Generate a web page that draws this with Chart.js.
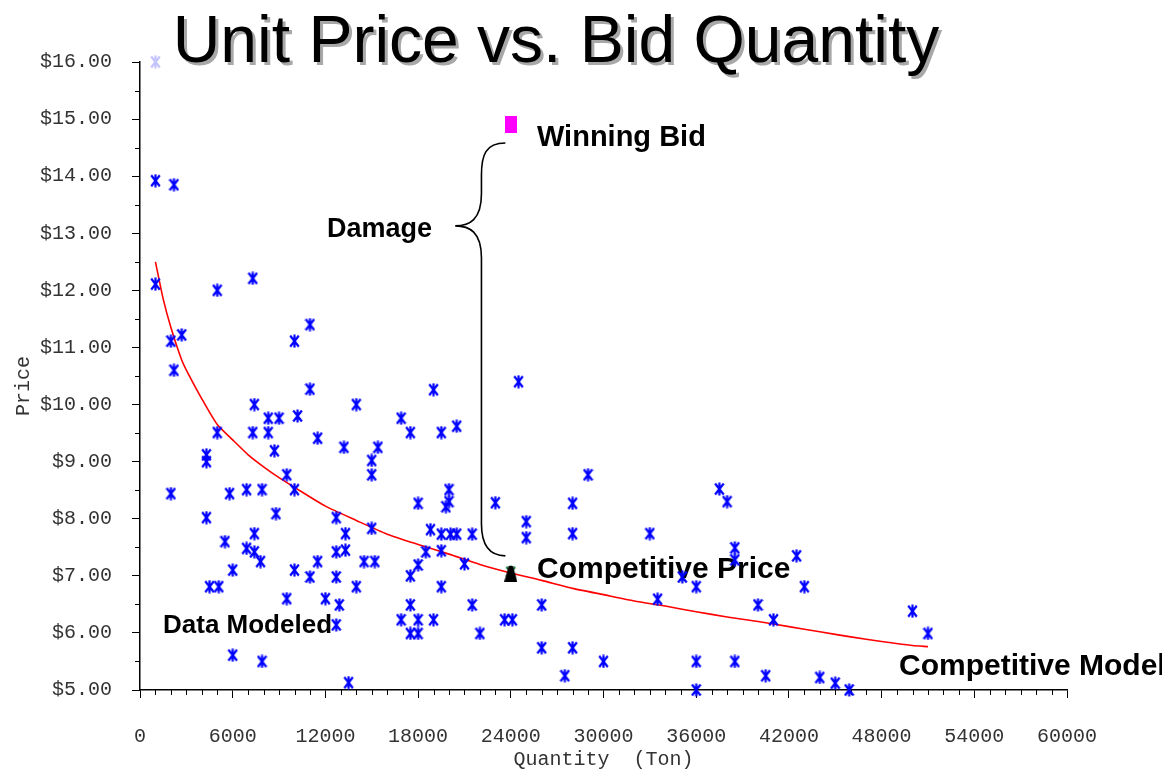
<!DOCTYPE html>
<html>
<head>
<meta charset="utf-8">
<title>Unit Price vs. Bid Quantity</title>
<script src="https://cdn.jsdelivr.net/npm/chart.js@4.4.1/dist/chart.umd.min.js"></script>
<style>
  html, body { margin: 0; padding: 0; background: #fff; }
  canvas { display: block; }
</style>
</head>
<body>
<canvas id="bidChart" width="1168" height="771"></canvas>
<script>
// bids (quantity in tons, unit price in $)
const bidQty = [1000,2200,1000,2000,2700,5000,7300,10000,11000,2200,
  11000,7400,14000,8300,9000,10200,5000,7300,8300,11500,
  13200,15400,4300,4300,8700,15000,15000,9500,2000,5800,
  6900,7900,10000,8800,4300,12700,15000,7400,13300,5500,
  6900,7400,7800,12700,13300,14500,15200,6000,10000,11500,
  11000,12700,4500,5100,14000,9500,12000,12900,12700,6000,
  7900,13500,19000,24500,16900,17500,19500,20500,20000,20000,
  19800,18000,23000,18800,19500,20100,20500,21500,25000,25000,
  18500,19500,18000,21000,17500,19500,17500,21500,26000,16900,
  18000,19000,23600,24100,17500,18000,22000,26000,29000,28000,
  37500,38000,28000,33000,38500,38500,35100,36000,33500,40000,
  41000,28000,30000,27500,36000,38500,40500,36000,42500,43000,
  50000,51000,44000,45000,45900];
const bidPrice = [13.92,13.85,12.11,11.11,11.22,12.00,12.21,11.11,11.40,10.60,
  10.27,10.00,10.00,9.76,9.76,9.80,9.51,9.51,9.51,9.41,
  9.25,9.25,9.12,9.00,9.19,9.02,8.77,8.77,8.44,8.44,
  8.51,8.51,8.51,8.09,8.02,8.02,7.83,7.74,7.74,7.60,
  7.48,7.42,7.25,7.42,7.45,7.25,7.25,7.10,7.10,7.25,
  6.98,6.98,6.81,6.81,6.81,6.60,6.60,6.49,6.14,5.61,
  5.50,5.13,10.26,10.40,9.76,9.51,9.51,9.62,8.51,8.30,
  8.21,8.27,8.28,7.81,7.73,7.73,7.73,7.73,7.95,7.67,
  7.42,7.44,7.19,7.21,7.00,6.81,6.49,6.49,6.49,6.23,
  6.23,6.23,6.23,6.23,5.99,5.99,5.99,5.74,8.77,8.27,
  8.52,8.30,7.74,7.74,7.49,7.28,6.98,6.81,6.59,6.49,
  6.23,5.74,5.50,5.25,5.50,5.50,5.25,5.00,7.35,6.81,
  6.38,5.99,5.22,5.12,5.00];

// faint point in the top left corner
const fadedQty = [1000];
const fadedPrice = [16.00];

// competitive model curve
const modelQty = [1000,1500,2000,2700,3100,4000,5000,6000,7000,8000,9000,10000,12000,14000,16000,18000,
  20000,22000,24000,26000,28000,30000,32000,34000,36000,38000,40000,42000,44000,46000,48000,50000,51000];
const modelPrice = [12.50,11.85,11.35,10.78,10.55,10.10,9.65,9.38,9.12,8.91,8.72,8.55,8.22,7.97,7.73,7.55,
  7.38,7.20,7.05,6.92,6.78,6.67,6.56,6.47,6.37,6.28,6.20,6.11,6.02,5.93,5.85,5.78,5.76];

const winningQty = [24000];
const winningPrice = [14.90];
const competitiveQty = [24000];
const competitivePrice = [7.04];

// axis ticks
const xTicks = [0,6000,12000,18000,24000,30000,36000,42000,48000,54000,60000];
const yTicks = [5,6,7,8,9,10,11,12,13,14,15,16];

function toPoints(xs, ys) {
  return xs.map((x, i) => ({ x: x, y: ys[i] }));
}

function makeStar(color, w, h) {
  const c = document.createElement("canvas");
  c.width = w; c.height = h;
  const g = c.getContext("2d");
  g.strokeStyle = color;
  g.lineWidth = 2.2;
  g.beginPath();
  g.moveTo(w / 2, 0.5); g.lineTo(w / 2, h - 0.5);
  g.moveTo(1.2, 1.5); g.lineTo(w - 1.2, h - 1.5);
  g.moveTo(w - 1.2, 1.5); g.lineTo(1.2, h - 1.5);
  g.stroke();
  return c;
}

function makeRect(color, w, h) {
  const c = document.createElement("canvas");
  c.width = w; c.height = h;
  const g = c.getContext("2d");
  g.fillStyle = color;
  g.fillRect(0, 0, w, h);
  return c;
}

function makeTriangle(color, w, h) {
  const c = document.createElement("canvas");
  c.width = w; c.height = h;
  const g = c.getContext("2d");
  g.fillStyle = color;
  g.beginPath();
  g.moveTo(w / 2 - 2, 0);
  g.lineTo(w / 2 + 2, 0);
  g.lineTo(w, h);
  g.lineTo(0, h);
  g.closePath();
  g.fill();
  return c;
}

const blueStar = makeStar("#0000ff", 11, 14);
const fadedStar = makeStar("#c4c4ff", 11, 14);
const greenStar = makeStar("#0a6b2a", 11, 13);
const magentaRect = makeRect("#ff00ff", 12, 17);
const blackTri = makeTriangle("#000000", 13, 16);

// minor ticks, brace, title and labels
const decorations = {
  id: "decorations",
  beforeDatasetsDraw(chart) {
    const ctx = chart.ctx;
    const xs = chart.scales.x, ys = chart.scales.y;
    const left = chart.chartArea.left, bottom = chart.chartArea.bottom;
    ctx.save();
    ctx.strokeStyle = "#000";
    ctx.lineWidth = 1;
    ctx.beginPath();
    for (let v = 0; v <= 60000; v += 1000) {
      if (v % 6000 === 0) continue;
      const px = Math.round(xs.getPixelForValue(v)) + 0.5;
      ctx.moveTo(px, bottom); ctx.lineTo(px, bottom + 5);
    }
    for (let v = 5.5; v < 16; v += 1) {
      const py = Math.round(ys.getPixelForValue(v)) + 0.5;
      ctx.moveTo(left, py); ctx.lineTo(left - 5, py);
    }
    ctx.stroke();

    // brace between winning bid and competitive price
    const xEnd = xs.getPixelForValue(23650);
    const xLine = xs.getPixelForValue(22100);
    const xTip = xs.getPixelForValue(20400);
    const yTop = ys.getPixelForValue(14.58);
    const yTip = ys.getPixelForValue(13.13);
    const yBot = ys.getPixelForValue(7.35);
    ctx.lineWidth = 1.6;
    ctx.beginPath();
    ctx.moveTo(xEnd, yTop);
    ctx.bezierCurveTo(xLine + 4, yTop, xLine, yTop + 12, xLine, yTop + 32);
    ctx.lineTo(xLine, yTip - 32);
    ctx.bezierCurveTo(xLine, yTip - 6, xLine - 12, yTip, xTip, yTip);
    ctx.bezierCurveTo(xLine - 12, yTip, xLine, yTip + 6, xLine, yTip + 32);
    ctx.lineTo(xLine, yBot - 32);
    ctx.bezierCurveTo(xLine, yBot - 8, xEnd - 14, yBot, xEnd, yBot);
    ctx.stroke();

    // annotation labels
    ctx.fillStyle = "#000";
    ctx.textAlign = "left";
    ctx.textBaseline = "alphabetic";
    ctx.font = "bold 29px 'Liberation Sans', Arial, sans-serif";
    ctx.fillText("Winning Bid", 537, 146);
    ctx.font = "bold 27px 'Liberation Sans', Arial, sans-serif";
    ctx.fillText("Damage", 327, 237);
    ctx.font = "bold 30px 'Liberation Sans', Arial, sans-serif";
    ctx.fillText("Competitive Price", 537, 578);
    ctx.font = "bold 26px 'Liberation Sans', Arial, sans-serif";
    ctx.fillText("Data Modeled", 163, 633);
    ctx.save();
    ctx.beginPath();
    ctx.rect(0, 0, 1162, 771);
    ctx.clip();
    ctx.font = "bold 30px 'Liberation Sans', Arial, sans-serif";
    ctx.fillText("Competitive Model", 899, 675);
    ctx.restore();

    // chart title with drop shadow
    ctx.font = "66px 'Liberation Sans', Arial, sans-serif";
    ctx.textAlign = "center";
    ctx.fillStyle = "#a8a8a8";
    ctx.fillText("Unit Price vs. Bid Quantity", 559, 65);
    ctx.fillStyle = "#000";
    ctx.fillText("Unit Price vs. Bid Quantity", 556, 62);

    // y axis title, placed a little below the axis centre as in the source
    ctx.font = "20px 'Liberation Mono', 'Courier New', monospace";
    ctx.fillStyle = "#333";
    ctx.translate(24, 386);
    ctx.rotate(-Math.PI / 2);
    ctx.textBaseline = "middle";
    ctx.fillText("Price", 0, 0);
    ctx.restore();
  }
};

const monoFont = { family: "'Liberation Mono', 'Courier New', monospace", size: 20 };

new Chart(document.getElementById("bidChart"), {
  type: "scatter",
  data: {
    datasets: [
      { label: "Winning Bid", data: toPoints(winningQty, winningPrice), pointStyle: magentaRect, order: 0, clip: false },
      { label: "Competitive Price", data: toPoints(competitiveQty, competitivePrice), pointStyle: blackTri, order: 1, clip: false },
      { label: "Competitive Mark", data: toPoints(competitiveQty, competitivePrice.map(p => p + 0.03)), pointStyle: greenStar, order: 2, clip: false },
      { label: "Bids", data: toPoints(bidQty, bidPrice), pointStyle: blueStar, order: 3, clip: false },
      { label: "Faded", data: toPoints(fadedQty, fadedPrice), pointStyle: fadedStar, order: 4, clip: false },
      {
        label: "Competitive Model", type: "line", data: toPoints(modelQty, modelPrice),
        borderColor: "#ff0000", borderWidth: 1.6, pointRadius: 0, fill: false, tension: 0.2, order: 5
      }
    ]
  },
  options: {
    responsive: false,
    animation: false,
    events: [],
    layout: { padding: { top: 62, right: 101, left: 0, bottom: 0 } },
    plugins: { legend: { display: false }, tooltip: { enabled: false } },
    scales: {
      x: {
        type: "linear", min: 0, max: 60000,
        afterBuildTicks: (scale) => { scale.ticks = xTicks.map(v => ({ value: v })); },
        ticks: { autoSkip: false, maxRotation: 0, color: "#333", font: monoFont, padding: 27,
          callback: (v) => String(v) },
        grid: { drawOnChartArea: false, drawTicks: true, tickLength: 8, tickColor: "#000", tickWidth: 1 },
        border: { display: true, color: "#000", width: 1.5 },
        title: { display: true, text: "Quantity  (Ton)", color: "#333", font: monoFont, padding: { top: 0, bottom: -1 } },
        afterFit: (scale) => { scale.height = 81; }
      },
      y: {
        type: "linear", min: 5, max: 16,
        afterBuildTicks: (scale) => { scale.ticks = yTicks.map(v => ({ value: v })); },
        ticks: { autoSkip: false, color: "#333", font: monoFont, padding: 20,
          callback: (v) => "$" + Number(v).toFixed(2) },
        grid: { drawOnChartArea: false, drawTicks: true, tickLength: 8, tickColor: "#000", tickWidth: 1 },
        border: { display: true, color: "#000", width: 1.5 },
        title: { display: false },
        afterFit: (scale) => { scale.width = 140; }
      }
    }
  },
  plugins: [decorations]
});
</script>
</body>
</html>
